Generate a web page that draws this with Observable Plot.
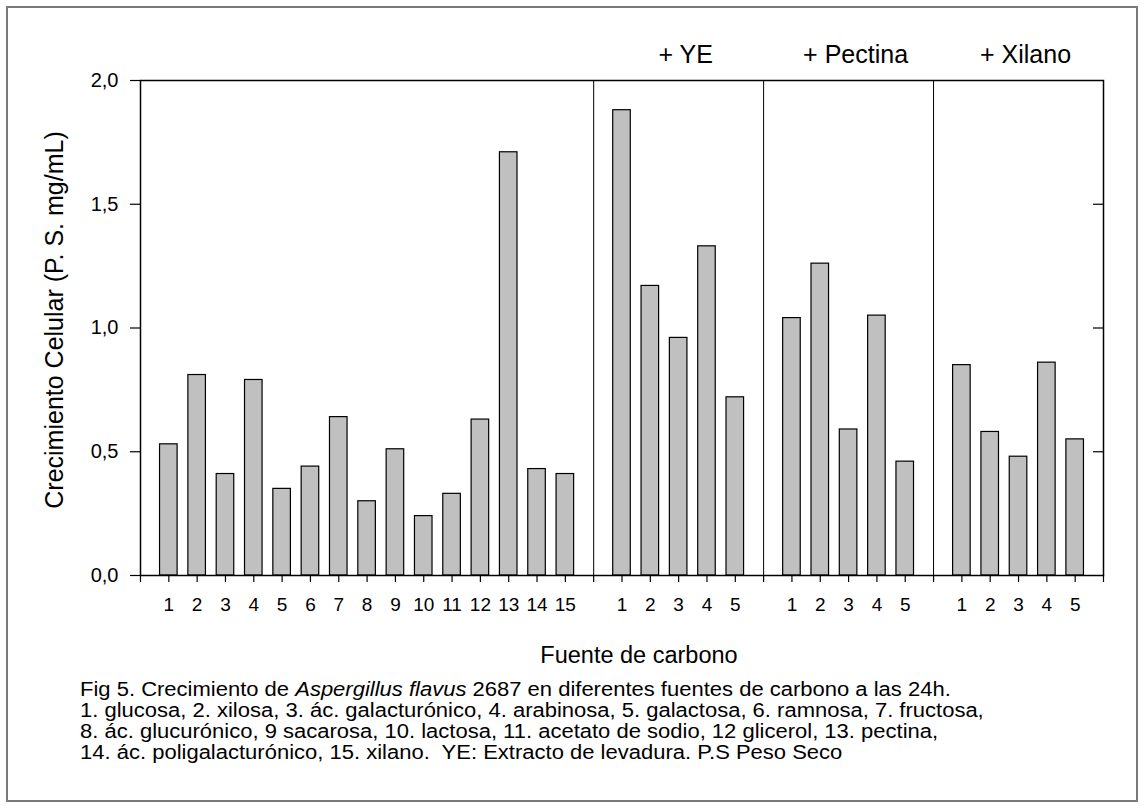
<!DOCTYPE html>
<html><head><meta charset="utf-8">
<script src="https://cdn.jsdelivr.net/npm/d3@7"></script>
<script src="https://cdn.jsdelivr.net/npm/@observablehq/plot@0.6"></script>
<style>
body{margin:0;background:#fff;width:1144px;height:808px;position:relative;overflow:hidden;font-family:"Liberation Sans",Arial,sans-serif}
#border{position:absolute;left:6px;top:6px;width:1132px;height:796px;border:2px solid #7a7a7a;box-sizing:border-box}
#chart{position:absolute;left:0;top:0}
#caption{position:absolute;left:80px;top:679px;font-size:20px;line-height:21px;color:#000;white-space:nowrap;transform:scaleX(1.1);transform-origin:0 0}
</style></head><body>
<div id="border"></div>
<div id="chart"></div>
<div id="caption">Fig 5. Crecimiento de <i>Aspergillus flavus</i> 2687 en diferentes fuentes de carbono a las 24h.<br>1. glucosa, 2. xilosa, 3. ác. galacturónico, 4. arabinosa, 5. galactosa, 6. ramnosa, 7. fructosa,<br>8. ác. glucurónico, 9 sacarosa, 10. lactosa, 11. acetato de sodio, 12 glicerol, 13. pectina,<br>14. ác. poligalacturónico, 15. xilano.&nbsp; YE: Extracto de levadura. P.S Peso Seco</div>
<script>
// ---- data ----
const mainLabels = ["1","2","3","4","5","6","7","8","9","10","11","12","13","14","15"];
const mainValues = [0.53, 0.81, 0.41, 0.79, 0.35, 0.44, 0.64, 0.30, 0.51, 0.24, 0.33, 0.63, 1.71, 0.43, 0.41];
const subLabels = ["1","2","3","4","5"];
const groupNames = ["+ YE", "+ Pectina", "+ Xilano"];
const yeValues = [1.88, 1.17, 0.96, 1.33, 0.72];
const pectinaValues = [1.04, 1.26, 0.59, 1.05, 0.46];
const xilanoValues = [0.85, 0.58, 0.48, 0.86, 0.55];
const yTicks = [0, 0.5, 1.0, 1.5, 2.0];
const yRightTicks = [0.5, 1.0, 1.5];
const yTitle = "Crecimiento Celular (P. S. mg/mL)";
const xTitle = "Fuente de carbono";

// ---- build table ----
const groups = [
  {name: "", labels: mainLabels, values: mainValues},
  {name: groupNames[0], labels: subLabels, values: yeValues},
  {name: groupNames[1], labels: subLabels, values: pectinaValues},
  {name: groupNames[2], labels: subLabels, values: xilanoValues}
];
const bars = [], dividers = [], titles = [];
const tickLabels = new Map();
let pos = 0;
for (const g of groups) {
  const start = pos;
  g.values.forEach((v, i) => {
    pos++;
    bars.push({pos, value: v, label: g.labels[i]});
    tickLabels.set(pos, g.labels[i]);
  });
  pos++;
  dividers.push(pos);
  if (g.name) titles.push({name: g.name, center: (start + pos) / 2});
}
const xMax = pos;
const half = 0.31;
const fmt = d => d.toFixed(1).replace(".", ",");

const chart = Plot.plot({
  width: 1144,
  height: 680,
  marginLeft: 140,
  marginRight: 41,
  marginTop: 80,
  marginBottom: 105,
  style: {fontFamily: '"Liberation Sans", Arial, sans-serif', background: "none", color: "#000", overflow: "visible"},
  x: {domain: [0, xMax]},
  y: {domain: [0, 2]},
  marks: [
    Plot.rectY(bars, {x1: d => d.pos - half, x2: d => d.pos + half, y: "value", fill: "#c0c0c0", stroke: "#000", strokeWidth: 1.2}),
    Plot.ruleX(dividers.slice(0, -1), {stroke: "#000", strokeWidth: 1}),
    Plot.frame({stroke: "#000", strokeWidth: 1.5}),
    Plot.axisY({ticks: yTicks, tickSize: 10, tickPadding: 12, tickFormat: fmt, fontSize: 20, label: null, strokeWidth: 1.2}),
    Plot.ruleY(yRightTicks, {x1: xMax, x2: xMax, insetLeft: -10, stroke: "#000", strokeWidth: 1.2}),
    Plot.axisX({ticks: d3.range(0, xMax + 1), tickSize: 7, tickPadding: 15, tickFormat: d => tickLabels.get(d) ?? "", fontSize: 19, label: null, strokeWidth: 1.2}),
    Plot.text([yTitle], {text: d => d, frameAnchor: "left", rotate: -90, dx: -86, dy: -8, fontSize: 25, textAnchor: "middle", lineAnchor: "middle"}),
    Plot.text([xTitle], {text: d => d, frameAnchor: "bottom", dy: 80, dx: 17, fontSize: 23.5, textAnchor: "middle", lineAnchor: "middle"}),
    Plot.text(titles, {x: "center", text: "name", frameAnchor: "top", dy: -26, dx: 7, fontSize: 25, textAnchor: "middle", lineAnchor: "middle"})
  ]
});
document.getElementById("chart").appendChild(chart);
</script>
</body></html>
